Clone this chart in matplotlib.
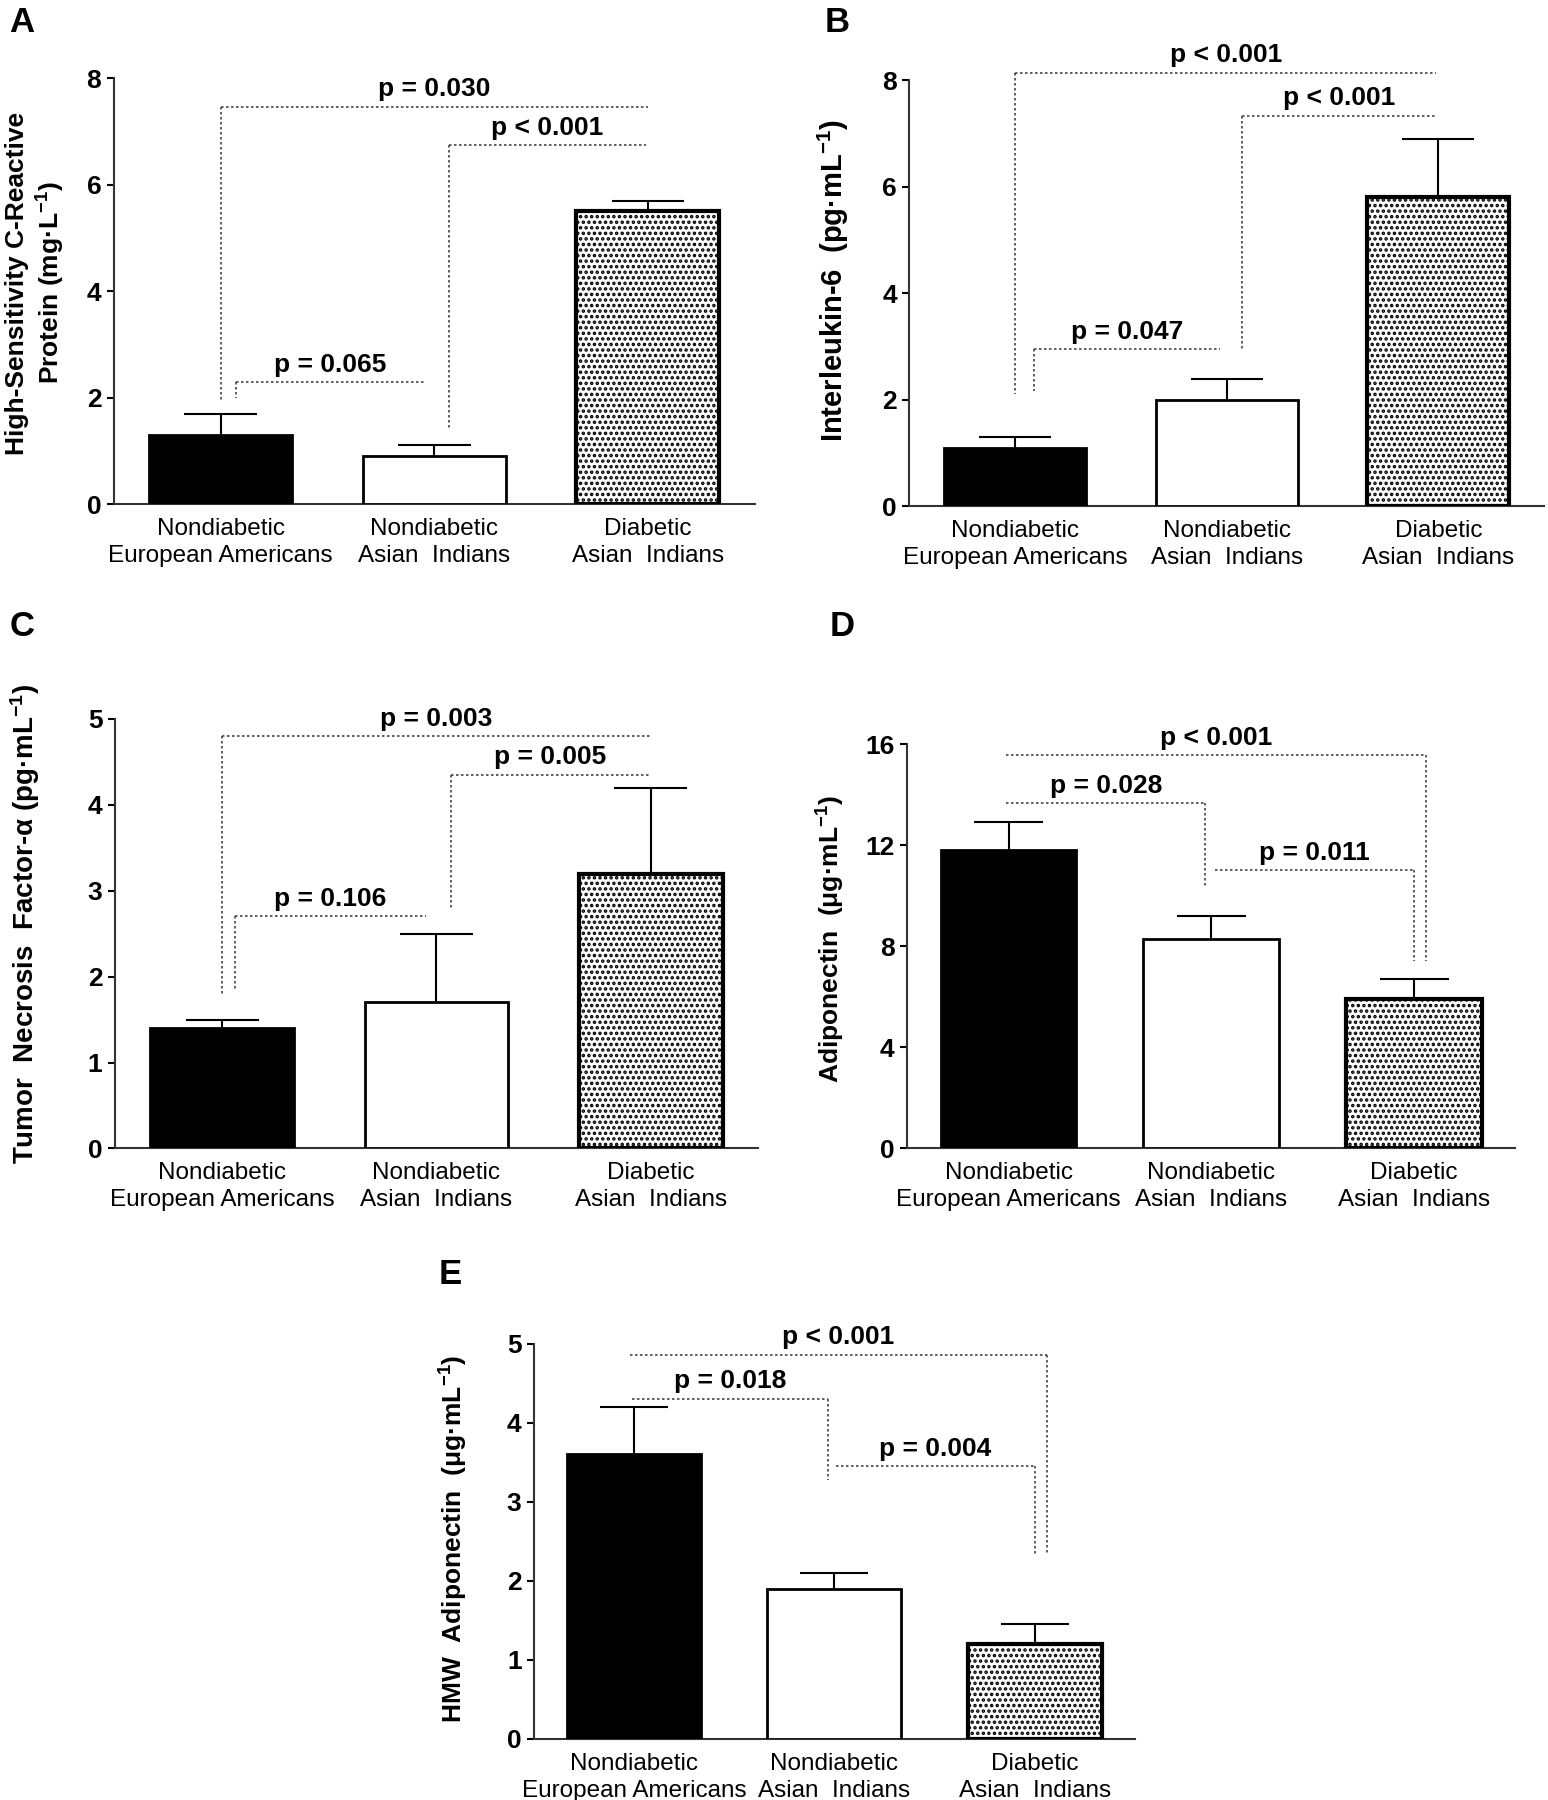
import matplotlib.pyplot as plt
import numpy as np
from matplotlib import font_manager

plt.rcParams['font.family'] = ['Liberation Sans', 'DejaVu Sans']
plt.rcParams['mathtext.default'] = 'regular'
plt.rcParams['hatch.linewidth'] = 1.7

names = {f.name for f in font_manager.fontManager.ttflist}
NARROW = ['Liberation Sans Narrow', 'Liberation Sans'] if 'Liberation Sans Narrow' in names else ['Liberation Sans']

groups = ['Nondiabetic\nEuropean Americans', 'Nondiabetic\nAsian  Indians', 'Diabetic\nAsian  Indians']

# panel A - hs-CRP
crp_mean = [1.3, 0.9, 5.5]
crp_sem = [0.4, 0.2, 0.2]
crp_sig = ['p = 0.030', 'p < 0.001', 'p = 0.065']
crp_x0 = [0.0, 1.07, 0.07]
crp_x1 = [2.0, 1.99, 0.96]
crp_y = [7.46, 6.74, 2.29]
crp_drop = [1.95, 1.42, 1.99]

# panel B - IL-6
il6_mean = [1.1, 2.0, 5.8]
il6_sem = [0.2, 0.4, 1.1]
il6_sig = ['p < 0.001', 'p < 0.001', 'p = 0.047']
il6_x0 = [0.0, 1.07, 0.09]
il6_x1 = [1.99, 1.99, 0.97]
il6_y = [8.14, 7.33, 2.95]
il6_drop = [2.11, 2.92, 2.17]

# panel C - TNF-alpha
tnf_mean = [1.4, 1.7, 3.2]
tnf_sem = [0.1, 0.8, 1.0]
tnf_sig = ['p = 0.003', 'p = 0.005', 'p = 0.106']
tnf_x0 = [0.0, 1.07, 0.06]
tnf_x1 = [2.0, 1.99, 0.95]
tnf_y = [4.80, 4.35, 2.70]
tnf_drop = [1.79, 2.79, 1.85]

# panel D - adiponectin
adi_mean = [11.8, 8.3, 5.9]
adi_sem = [1.1, 0.9, 0.8]
adi_sig = ['p < 0.001', 'p = 0.028', 'p = 0.011']
adi_x0 = [-0.01, -0.01, 1.02]
adi_x1 = [2.06, 0.97, 2.0]
adi_y = [15.55, 13.65, 11.0]
adi_drop = [7.4, 10.35, 7.4]

# panel E - HMW adiponectin
hmw_mean = [3.6, 1.9, 1.2]
hmw_sem = [0.6, 0.2, 0.25]
hmw_sig = ['p < 0.001', 'p = 0.018', 'p = 0.004']
hmw_x0 = [-0.02, -0.01, 1.01]
hmw_x1 = [2.06, 0.97, 2.0]
hmw_y = [4.86, 4.30, 3.45]
hmw_drop = [2.32, 3.27, 2.31]


def draw_panel(ax, means, sems, ymax, yticks, sig, x0s, x1s, ys, drops, side):
    x = np.arange(len(means))
    means = np.array(means)
    top = means + np.array(sems)
    bars = ax.bar(x, means, width=0.67, color=['black', 'white', 'white'],
                  edgecolor='black', linewidth=2, zorder=3)
    bars[2].set_hatch('...')
    bars[2].set_linewidth(3)
    ax.vlines(x, means, top, color='black', lw=1.5, zorder=2)
    ax.hlines(top, x - 0.17, x + 0.17, color='black', lw=1.5, zorder=2)

    # significance brackets (dotted)
    for lab, x0, x1, y, d in zip(sig, x0s, x1s, ys, drops):
        xv = x0 if side == 'left' else x1
        ax.plot([x0, x1], [y, y], ls=(0, (1.5, 1.5)), lw=1.2, color='#444444', clip_on=False)
        ax.plot([xv, xv], [y, d], ls=(0, (1.5, 1.5)), lw=1.2, color='#444444', clip_on=False)
        ax.annotate(lab, xy=((x0 + x1) / 2, y), xytext=(0, 4), textcoords='offset points',
                    ha='center', va='bottom', fontsize=19, fontweight='bold',
                    family=NARROW, annotation_clip=False)

    ax.set_xlim(-0.5, 2.5)
    ax.set_ylim(0, ymax)
    ax.set_yticks(yticks, labels=[str(v) for v in yticks], fontweight='bold',
                  fontsize=19, family=NARROW)
    ax.set_xticks(x, labels=groups, fontsize=17.5, linespacing=1.3)
    ax.tick_params(axis='x', length=0, pad=10)
    ax.tick_params(axis='y', length=5, width=1.5, pad=4)
    for s in ['top', 'right']:
        ax.spines[s].set_visible(False)
    for s in ['left', 'bottom']:
        ax.spines[s].set_linewidth(1.5)
        ax.spines[s].set_color('#333333')


fig = plt.figure(figsize=(15.48, 18.0), dpi=100)

axA = fig.add_axes([0.0735, 0.72, 0.414, 0.2366])
draw_panel(axA, crp_mean, crp_sem, 8, [0, 2, 4, 6, 8], crp_sig, crp_x0, crp_x1, crp_y, crp_drop, 'left')

axB = fig.add_axes([0.5875, 0.7187, 0.41, 0.2367])
draw_panel(axB, il6_mean, il6_sem, 8, [0, 2, 4, 6, 8], il6_sig, il6_x0, il6_x1, il6_y, il6_drop, 'left')

axC = fig.add_axes([0.0742, 0.362, 0.4155, 0.2386])
draw_panel(axC, tnf_mean, tnf_sem, 5, [0, 1, 2, 3, 4, 5], tnf_sig, tnf_x0, tnf_x1, tnf_y, tnf_drop, 'left')

axD = fig.add_axes([0.586, 0.362, 0.393, 0.2246])
draw_panel(axD, adi_mean, adi_sem, 16, [0, 4, 8, 12, 16], adi_sig, adi_x0, adi_x1, adi_y, adi_drop, 'right')

axE = fig.add_axes([0.345, 0.034, 0.388, 0.2195])
draw_panel(axE, hmw_mean, hmw_sem, 5, [0, 1, 2, 3, 4, 5], hmw_sig, hmw_x0, hmw_x1, hmw_y, hmw_drop, 'right')

# y labels placed in figure pixels
W, H = 1548, 1800
ylab = dict(rotation=90, ha='center', va='center', fontweight='bold')
fig.text(36 / W, 1 - 283 / H, 'High-Sensitivity C-Reactive\nProtein (mg\u00b7L$^{-1}$)',
         fontsize=19, linespacing=1.2, **ylab)
fig.text(833 / W, 1 - 281 / H, 'Interleukin-6  (pg\u00b7mL$^{-1}$)', fontsize=21, **ylab)
fig.text(25 / W, 1 - 924 / H, 'Tumor  Necrosis  Factor-\u03b1 (pg\u00b7mL$^{-1}$)', fontsize=20, **ylab)
fig.text(831 / W, 1 - 939 / H, 'Adiponectin  (\u03bcg\u00b7mL$^{-1}$)', fontsize=19, **ylab)
fig.text(454 / W, 1 - 1539 / H, 'HMW  Adiponectin  (\u03bcg\u00b7mL$^{-1}$)', fontsize=19, **ylab)

# panel letters
for lab, px, py in [('A', 22, 22), ('B', 837, 22), ('C', 22, 627), ('D', 842, 627), ('E', 450, 1274)]:
    fig.text(px / W, 1 - py / H, lab, fontsize=25, fontweight='bold', ha='center', va='center')

plt.savefig('out.png', dpi=100)
